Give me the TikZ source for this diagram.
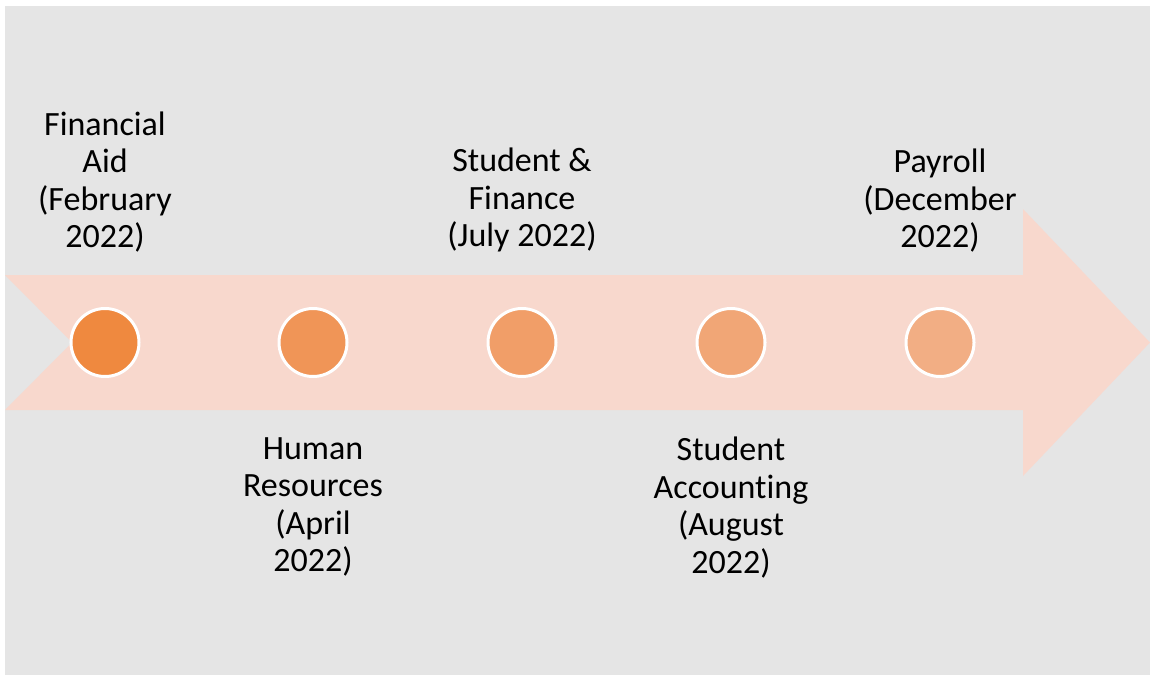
\documentclass[tikz,border=0pt]{standalone}
\usepackage{fontspec}
\setmainfont[Ligatures=NoCommon]{Carlito}
\definecolor{canvas}{HTML}{E5E5E5}
\definecolor{band}{HTML}{F8D8CD}
\definecolor{dotA}{HTML}{EF893F}
\definecolor{dotB}{HTML}{F09557}
\definecolor{dotC}{HTML}{F19E68}
\definecolor{dotD}{HTML}{F1A676}
\definecolor{dotE}{HTML}{F2AE84}
\tikzset{
  dot/.style={circle, draw=white, line width=3pt, minimum size=68pt, inner sep=0pt},
  label/.style={align=center, inner sep=0pt, font=\fontsize{34}{37.5}\selectfont, text=black},
  above label/.style={label, anchor=south},
  below label/.style={label, anchor=north}
}
\begin{document}
\begin{tikzpicture}[x=1pt, y=-1pt]
  \useasboundingbox (0,0) rectangle (1150,675);
  % panel
  \fill[canvas] (5,6) rectangle (1150,675);
  % timeline band with notched tail and arrow head
  \fill[band] (5,275) -- (1023,275) -- (1023,209) -- (1150,342.5) -- (1023,476)
    -- (1023,410) -- (5,410) -- (72,342.5) -- cycle;
  % milestones
  \node[dot, fill=dotA] (m1) at (105,342.5) {};
  \node[dot, fill=dotB] (m2) at (313,342.5) {};
  \node[dot, fill=dotC] (m3) at (522,342.5) {};
  \node[dot, fill=dotD] (m4) at (731,342.5) {};
  \node[dot, fill=dotE] (m5) at (940,342.5) {};
  % labels
  \node[above label] (t1) at (105,252.5) {Financial\\Aid\\(February\\2022)};
  \node[below label] (t2) at (313,437) {Human\\Resources\\(April\\2022)};
  \node[above label] (t3) at (522,252.5) {Student \&\\Finance\\(July 2022)};
  \node[below label] (t4) at (731,437) {Student\\Accounting\\(August\\2022)};
  \node[above label] (t5) at (940,252.5) {Payroll\\(December\\2022)};
\end{tikzpicture}
\end{document}
